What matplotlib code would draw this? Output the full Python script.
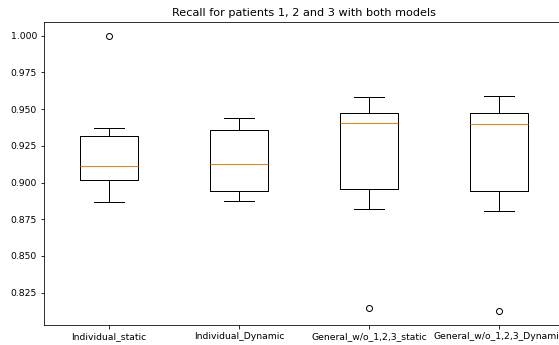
import matplotlib
matplotlib.use("Agg")
from matplotlib import pyplot as plt

labels = ["Individual_static", "Individual_Dynamic",
          "General_w/o_1,2,3_static", "General_w/o_1,2,3_Dynamic"]
medians = [0.9114, 0.9123, 0.9406, 0.9402]
q1s = [0.9016, 0.8941, 0.8959, 0.8945]
q3s = [0.9314, 0.9359, 0.9477, 0.9473]
whisLow = [0.8864, 0.8877, 0.8820, 0.8807]
whisHigh = [0.9373, 0.9441, 0.9580, 0.9587]
outliers = [[1.000], [], [0.8143], [0.8123]]

stats = []
for i in range(len(labels)):
    stats.append({"label": labels[i], "med": medians[i], "q1": q1s[i], "q3": q3s[i],
                  "whislo": whisLow[i], "whishi": whisHigh[i], "fliers": outliers[i]})

plt.rcParams["font.size"] = 9.3
fig = plt.figure(figsize=(559 / 72, 345 / 72), dpi=72)
ax = fig.add_axes([44 / 559, 20 / 345, 520 / 559, 303 / 345])
ax.bxp(stats)
ax.set_title("Recall for patients 1, 2 and 3 with both models", fontsize=11.2)

fig.savefig("out.png", dpi=72)
